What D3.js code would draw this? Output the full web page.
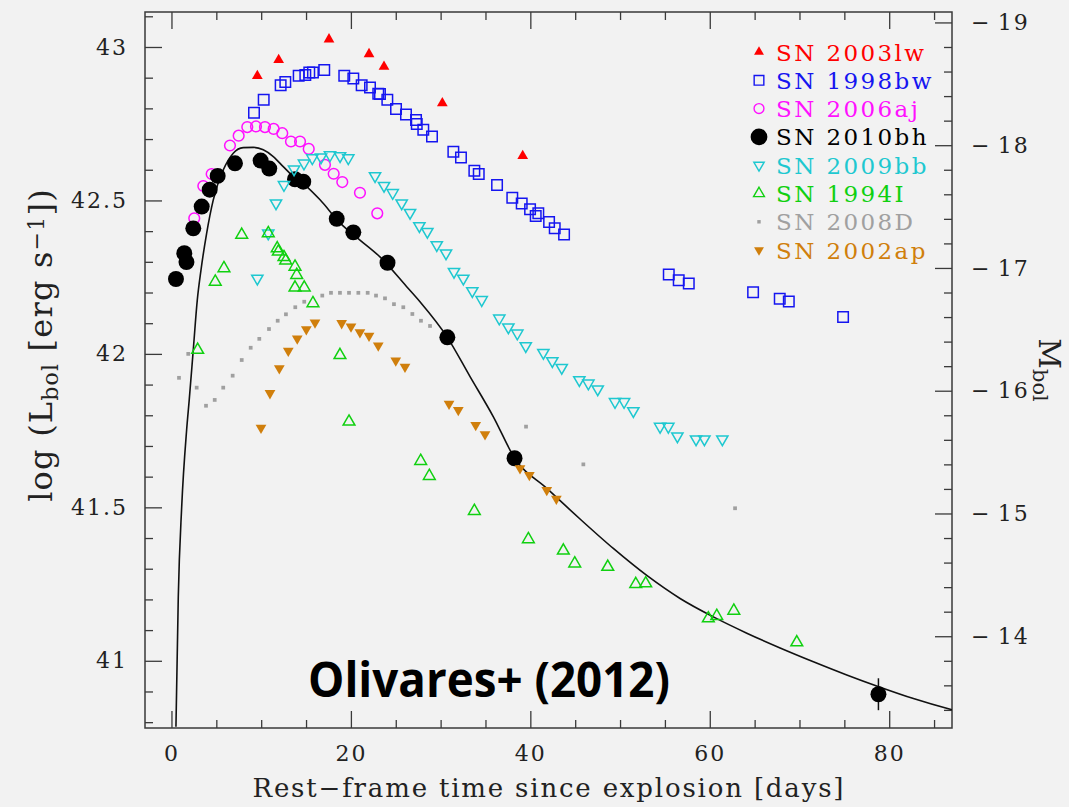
<!DOCTYPE html>
<html>
<head>
<meta charset="utf-8">
<script src="https://cdn.jsdelivr.net/npm/d3@7"></script>
<style>
  html, body { margin: 0; padding: 0; background: #f2f2f2; }
  svg { display: block; }
  text { font-family: "DejaVu Serif", serif; }
</style>
</head>
<body>
<svg id="chart" width="1069" height="807"></svg>
<script>
// Bolometric light curves: [rest-frame day, log L_bol]
const sn2003lw = [[9.57,42.906],[11.95,42.958],[17.56,43.025],[22.02,42.977],[23.69,42.936],[30.19,42.817],[39.15,42.645]];
const sn1998bw = [[9.20,42.786],[10.28,42.828],[12.17,42.875],[12.69,42.886],[14.18,42.906],[14.92,42.909],[15.36,42.917],
  [15.77,42.917],[17.03,42.925],[19.26,42.906],[20.27,42.897],[21.20,42.875],[22.13,42.868],[23.05,42.848],[23.24,42.847],
  [24.06,42.828],[25.03,42.798],[26.14,42.780],[27.26,42.762],[27.34,42.749],[28.07,42.730],[29.04,42.708],[31.42,42.659],
  [32.27,42.640],[33.76,42.597],[34.25,42.586],[36.29,42.550],[37.99,42.509],[39.04,42.490],[39.97,42.471],[40.60,42.449],
  [40.89,42.458],[42.09,42.430],[42.72,42.409],[43.76,42.389],[55.43,42.259],[56.54,42.240],[57.66,42.229],[64.83,42.201],
  [67.80,42.180],[68.81,42.171],[74.86,42.120]];
const sn2006aj = [[2.54,42.442],[3.55,42.547],[4.48,42.586],[6.52,42.679],[7.49,42.711],[8.45,42.739],[9.42,42.741],
  [10.42,42.739],[11.39,42.733],[12.35,42.719],[13.32,42.692],[14.33,42.692],[15.30,42.668],[17.11,42.616],[18.08,42.587],
  [19.04,42.560],[21.01,42.525],[22.94,42.458]];
// third value: 1-sigma error in log L (0 = no error bar drawn)
const sn2010bh = [[0.50,42.244,0],[1.43,42.328,0],[1.67,42.299,0],[2.43,42.409,0],[3.37,42.480,0],[4.26,42.535,0],
  [5.15,42.580,0],[7.08,42.621,0],[9.94,42.630,0],[10.90,42.604,0],[13.77,42.569,0],[14.69,42.561,0],[18.42,42.440,0],
  [20.27,42.396,0],[24.08,42.297,0],[30.75,42.054,0],[38.24,41.660,0],[78.80,40.891,0.052]];
const sn2009bb = [[9.57,42.246],[10.79,42.393],[11.65,42.491],[12.54,42.551],[13.66,42.602],[14.77,42.621],[15.70,42.638],
  [16.67,42.641],[17.67,42.648],[18.79,42.645],[19.71,42.638],[22.69,42.580],[23.69,42.548],[24.66,42.525],[25.66,42.491],
  [26.59,42.460],[27.63,42.417],[28.52,42.398],[29.57,42.355],[30.60,42.328],[31.49,42.268],[32.53,42.246],[33.53,42.205],
  [34.58,42.176],[36.54,42.116],[37.55,42.087],[38.55,42.067],[39.49,42.026],[41.45,42.004],[42.45,41.977],[43.50,41.955],
  [45.46,41.915],[46.47,41.904],[47.51,41.885],[49.44,41.844],[50.45,41.844],[51.48,41.814],[54.46,41.763],[55.38,41.763],
  [56.39,41.732],[58.47,41.722],[59.40,41.722],[61.40,41.722]];
const sn1994I = [[2.92,42.013],[4.88,42.235],[5.85,42.279],[7.83,42.388],[10.79,42.393],[11.79,42.344],[11.91,42.333],
  [12.54,42.315],[12.73,42.304],[13.77,42.284],[13.96,42.257],[13.77,42.216],[14.80,42.216],[15.77,42.165],[18.78,41.996],
  [19.79,41.779],[27.78,41.651],[28.74,41.602],[33.76,41.488],[39.78,41.396],[43.68,41.359],[44.95,41.317],[48.63,41.306],
  [51.75,41.250],[52.86,41.252],[59.84,41.138],[60.78,41.146],[62.68,41.163],[69.70,41.060]];
const sn2008D = [[0.84,41.922],[1.87,42.000],[2.81,41.890],[3.85,41.831],[4.82,41.850],[5.77,41.890],[6.82,41.929],
  [7.83,41.980],[8.83,42.020],[9.79,42.049],[10.87,42.081],[11.84,42.108],[12.76,42.129],[13.80,42.152],[14.80,42.170],
  [16.81,42.190],[17.78,42.199],[18.78,42.199],[19.79,42.199],[20.83,42.199],[21.87,42.199],[22.80,42.190],[23.80,42.181],
  [24.80,42.162],[25.84,42.152],[26.85,42.130],[27.81,42.108],[28.82,42.091],[39.52,41.763],[45.91,41.640],[62.82,41.497]];
const sn2002ap = [[9.98,41.759],[10.98,41.872],[12.02,41.953],[13.02,42.010],[14.02,42.050],[15.03,42.080],[16.00,42.102],
  [18.97,42.100],[20.01,42.089],[21.01,42.070],[22.02,42.059],[23.05,42.027],[25.00,41.978],[26.03,41.958],[30.94,41.837],
  [31.97,41.817],[33.91,41.768],[34.95,41.738],[38.85,41.627],[39.89,41.605],[41.83,41.556],[42.90,41.528]];
// Model light curve for SN 2010bh
const model2010bh = [[0.50,40.785],[0.76,41.209],[1.14,41.502],[1.69,41.752],[1.98,41.850],[2.43,42.013],[2.88,42.176],
  [3.29,42.273],[3.92,42.393],[4.66,42.502],[5.77,42.599],[6.89,42.654],[8.00,42.672],[9.12,42.673],[10.23,42.665],
  [11.35,42.643],[12.46,42.610],[13.58,42.578],[15.07,42.545],[16.56,42.502],[18.78,42.427],[21.01,42.371],[23.24,42.316],
  [26.22,42.219],[27.70,42.170],[30.75,42.054],[33.28,41.926],[35.88,41.795],[38.26,41.660],[41.83,41.562],[45.54,41.462],
  [49.25,41.366],[52.98,41.278],[56.69,41.203],[60.40,41.143],[64.13,41.090],[67.84,41.042],[71.55,40.997],[75.27,40.954],
  [78.99,40.914],[82.70,40.877],[86.80,40.842],[88.0,40.833]];

const legendNames = ["SN 2003lw","SN 1998bw","SN 2006aj","SN 2010bh","SN 2009bb","SN 1994I","SN 2008D","SN 2002ap"];
const xTicksMajor = [0,20,40,60,80];
const yTicksMajor = [41,41.5,42,42.5,43];
const mTicksMajor = [-19,-18,-17,-16,-15,-14];

// ---- layout & scales ----
const svg = d3.select("#chart");
const P = {left:145, right:952, top:12, bottom:728};
const x = d3.scaleLinear().domain([-2.95, 87.0]).range([P.left, P.right]);
const y = d3.scaleLinear().domain([40.781, 43.114]).range([P.bottom, P.top]);
const magZero = 88.70; // M_bol = magZero - 2.5 log L
const yM = d3.scaleLinear().domain([magZero - 2.5*40.781, magZero - 2.5*43.114]).range([P.bottom, P.top]);

svg.append("rect").attr("width",1069).attr("height",807).attr("fill","#f2f2f2");

svg.append("defs").append("clipPath").attr("id","plotclip")
  .append("rect").attr("x",P.left).attr("y",P.top).attr("width",P.right-P.left).attr("height",P.bottom-P.top);

// ---- axes ----
const axisColor = "#3a3a3a";
function styleAxis(g){
  g.select(".domain").remove();
  g.selectAll(".tick line").attr("stroke",axisColor).attr("stroke-width",1.3);
  g.selectAll("text").attr("fill","#222").style("font-family","'DejaVu Serif', serif")
    .style("font-size","22px").style("letter-spacing","2px");
}
const range = (a,b,s) => d3.range(Math.round(a/s), Math.round(b/s)+1).map(k => +(k*s).toFixed(4));

// bottom
svg.append("g").attr("transform",`translate(0,${P.bottom})`)
  .call(d3.axisBottom(x).tickValues(range(0,85,5).filter(v=>v%20!==0)).tickSizeInner(-8).tickSizeOuter(0).tickFormat(""))
  .call(styleAxis);
svg.append("g").attr("transform",`translate(0,${P.bottom})`)
  .call(d3.axisBottom(x).tickValues(xTicksMajor).tickSizeInner(-17).tickSizeOuter(0).tickPadding(17).tickFormat(d=>String(d)))
  .call(styleAxis);
// top (mirrored ticks)
svg.append("g").attr("transform",`translate(0,${P.top})`)
  .call(d3.axisTop(x).tickValues(range(0,85,5).filter(v=>v%20!==0)).tickSizeInner(-8).tickSizeOuter(0).tickFormat(""))
  .call(styleAxis);
svg.append("g").attr("transform",`translate(0,${P.top})`)
  .call(d3.axisTop(x).tickValues(xTicksMajor).tickSizeInner(-17).tickSizeOuter(0).tickFormat(""))
  .call(styleAxis);
// left: log L
svg.append("g").attr("transform",`translate(${P.left},0)`)
  .call(d3.axisLeft(y).tickValues(range(40.8,43.1,0.1).filter(v=>Math.abs(v*2-Math.round(v*2))>1e-6)).tickSizeInner(-8).tickSizeOuter(0).tickFormat(""))
  .call(styleAxis);
svg.append("g").attr("transform",`translate(${P.left},0)`)
  .call(d3.axisLeft(y).tickValues(yTicksMajor).tickSizeInner(-17).tickSizeOuter(0).tickPadding(17).tickFormat(d=>String(d)))
  .call(styleAxis);
// right: M_bol
svg.append("g").attr("transform",`translate(${P.right},0)`)
  .call(d3.axisRight(yM).tickValues(range(-19,-13.4,0.2).filter(v=>Math.abs(v-Math.round(v))>1e-6)).tickSizeInner(-8).tickSizeOuter(0).tickFormat(""))
  .call(styleAxis);
svg.append("g").attr("transform",`translate(${P.right},0)`)
  .call(d3.axisRight(yM).tickValues(mTicksMajor).tickSizeInner(-17).tickSizeOuter(0).tickPadding(19)
    .tickFormat(d=>"\u2212\u2009"+Math.abs(d)))
  .call(styleAxis);

// frame
svg.append("rect").attr("x",P.left).attr("y",P.top).attr("width",P.right-P.left).attr("height",P.bottom-P.top)
  .attr("fill","none").attr("stroke",axisColor).attr("stroke-width",1.5);

// ---- marks ----
const plotG = svg.append("g").attr("clip-path","url(#plotclip)");

plotG.append("path").datum(model2010bh)
  .attr("d", d3.line().x(d=>x(d[0])).y(d=>y(d[1])).curve(d3.curveMonotoneX))
  .attr("fill","none").attr("stroke","#111").attr("stroke-width",1.6);

const styles = {
  "SN 2003lw": {data:sn2003lw, sym:d3.symbolTriangle, size:50, rot:0, fill:"#ff0000", stroke:"none"},
  "SN 1998bw": {data:sn1998bw, sym:d3.symbolSquare, size:110, rot:0, fill:"none", stroke:"#1515f0"},
  "SN 2006aj": {data:sn2006aj, sym:d3.symbolCircle, size:90, rot:0, fill:"none", stroke:"#ff10ff"},
  "SN 2010bh": {data:sn2010bh, sym:d3.symbolCircle, size:200, rot:0, fill:"#000", stroke:"none"},
  "SN 2009bb": {data:sn2009bb, sym:d3.symbolTriangle, size:55, rot:180, fill:"none", stroke:"#1ec8d0"},
  "SN 1994I":  {data:sn1994I, sym:d3.symbolTriangle, size:60, rot:0, fill:"none", stroke:"#10d010"},
  "SN 2008D":  {data:sn2008D, sym:d3.symbolSquare, size:14, rot:0, fill:"#a0a0a0", stroke:"none"},
  "SN 2002ap": {data:sn2002ap, sym:d3.symbolTriangle, size:50, rot:180, fill:"#d07f0c", stroke:"none"}
};

// error bars
plotG.selectAll("line.err").data(sn2010bh.filter(d=>d[2]>0)).join("line")
  .attr("x1",d=>x(d[0])).attr("x2",d=>x(d[0]))
  .attr("y1",d=>y(d[1]-d[2])).attr("y2",d=>y(d[1]+d[2]))
  .attr("stroke","#111").attr("stroke-width",1.5);

legendNames.forEach(name => {
  const s = styles[name];
  plotG.append("g").selectAll("path").data(s.data).join("path")
    .attr("transform", d=>`translate(${x(d[0])},${y(d[1])}) rotate(${s.rot})`)
    .attr("d", d3.symbol().type(s.sym).size(s.size)())
    .attr("fill", s.fill).attr("stroke", s.stroke).attr("stroke-width", 1.5);
});

// ---- legend ----
const legend = svg.append("g");
legendNames.forEach((name,i) => {
  const s = styles[name];
  const ly = 52 + i*28.3;
  const sz = name==="SN 2010bh" ? 220 : s.size*0.85;
  legend.append("path")
    .attr("transform",`translate(759,${ly}) rotate(${s.rot})`)
    .attr("d", d3.symbol().type(s.sym).size(sz)())
    .attr("fill", s.fill).attr("stroke", s.stroke).attr("stroke-width", 1.4);
  legend.append("text").attr("x",776).attr("y",ly+8.5)
    .attr("fill", s.fill!=="none" ? s.fill : s.stroke)
    .style("font-size","23px").style("letter-spacing","2.4px")
    .text(name);
});

// ---- axis titles ----
svg.append("text").attr("x",548).attr("y",797).attr("text-anchor","middle")
  .attr("textLength",591).attr("lengthAdjust","spacing")
  .style("font-size","26px").attr("fill","#222")
  .text("Rest\u2212frame time since explosion [days]");

const lt = svg.append("text").attr("transform","translate(52,345) rotate(-90)")
  .attr("text-anchor","middle").style("font-size","32px").style("letter-spacing","1.2px").attr("fill","#222");
lt.append("tspan").text("log (L");
lt.append("tspan").attr("baseline-shift","-28%").style("font-size","22px").text("bol");
lt.append("tspan").text(" [erg s");
lt.append("tspan").attr("baseline-shift","38%").style("font-size","22px").text("\u22121");
lt.append("tspan").text("])");

const rt = svg.append("text").attr("transform","translate(1039,370) rotate(90)")
  .attr("text-anchor","middle").style("font-size","30px").attr("fill","#222");
rt.append("tspan").text("M");
rt.append("tspan").attr("baseline-shift","-28%").style("font-size","21px").text("bol");

// citation tag
svg.append("text").attr("x",308).attr("y",697)
  .attr("textLength",362).attr("lengthAdjust","spacingAndGlyphs")
  .style("font-family","'Open Sans', sans-serif").style("font-weight","bold").style("font-size","49px")
  .attr("fill","#000").text("Olivares+ (2012)");
</script>
</body>
</html>
